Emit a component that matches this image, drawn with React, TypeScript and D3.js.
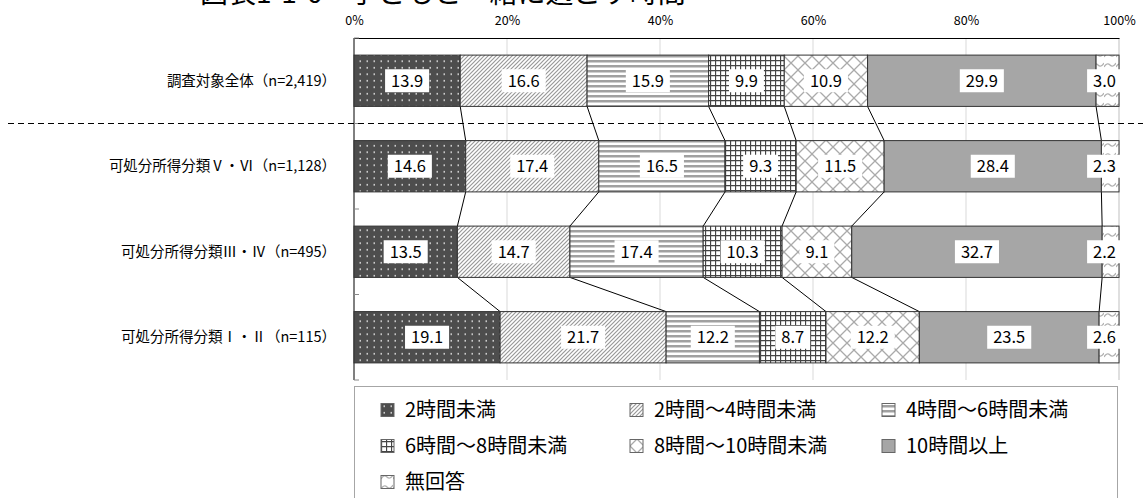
import * as d3 from "d3";
import { useEffect, useRef } from "react";

const categories = [
  "調査対象全体（n=2,419）",
  "可処分所得分類Ⅴ・Ⅵ（n=1,128）",
  "可処分所得分類Ⅲ・Ⅳ（n=495）",
  "可処分所得分類Ⅰ・Ⅱ（n=115）",
];
const seriesNames = [
  "2時間未満",
  "2時間～4時間未満",
  "4時間～6時間未満",
  "6時間～8時間未満",
  "8時間～10時間未満",
  "10時間以上",
  "無回答",
];
const valuesAll = [13.9, 16.6, 15.9, 9.9, 10.9, 29.9, 3.0];
const valuesV_VI = [14.6, 17.4, 16.5, 9.3, 11.5, 28.4, 2.3];
const valuesIII_IV = [13.5, 14.7, 17.4, 10.3, 9.1, 32.7, 2.2];
const valuesI_II = [19.1, 21.7, 12.2, 8.7, 12.2, 23.5, 2.6];
const rows = [valuesAll, valuesV_VI, valuesIII_IV, valuesI_II];
const tickValues = [0, 0.2, 0.4, 0.6, 0.8, 1];

const FONT = "'Noto Sans CJK JP', 'Noto Sans', sans-serif";

const App = () => {
  const ref = useRef<SVGSVGElement>(null);

  useEffect(() => {
    const width = 1143;
    const svg = d3.select(ref.current);
    svg.selectAll("*").remove();

    // パターン定義
    const defs = svg.append("defs");
    const p0 = defs.append("pattern").attr("id", "p0").attr("patternUnits", "userSpaceOnUse").attr("width", 7).attr("height", 6.5);
    p0.append("rect").attr("width", 7).attr("height", 6.5).attr("fill", "#4d4d4d");
    p0.append("rect").attr("x", 2.5).attr("y", 2).attr("width", 1.5).attr("height", 1.5).attr("fill", "#e6e6e6");

    const p1 = defs.append("pattern").attr("id", "p1").attr("patternUnits", "userSpaceOnUse").attr("width", 4).attr("height", 4);
    p1.append("rect").attr("width", 4).attr("height", 4).attr("fill", "#fff");
    p1.append("path").attr("d", "M-1,5 L5,-1 M-1,1 L1,-1 M3,5 L5,3").attr("stroke", "#999").attr("stroke-width", 1.2);

    const p2 = defs.append("pattern").attr("id", "p2").attr("patternUnits", "userSpaceOnUse").attr("width", 6).attr("height", 5);
    p2.append("rect").attr("width", 6).attr("height", 5).attr("fill", "#fff");
    p2.append("rect").attr("y", 0).attr("width", 6).attr("height", 2.5).attr("fill", "#a0a0a0");

    const p3 = defs.append("pattern").attr("id", "p3").attr("patternUnits", "userSpaceOnUse").attr("width", 5).attr("height", 5);
    p3.append("rect").attr("width", 5).attr("height", 5).attr("fill", "#fff");
    p3.append("path").attr("d", "M0,0.5 H5 M0.5,0 V5").attr("stroke", "#444").attr("stroke-width", 1.3);

    const p4 = defs.append("pattern").attr("id", "p4").attr("patternUnits", "userSpaceOnUse").attr("width", 14).attr("height", 14);
    p4.append("rect").attr("width", 14).attr("height", 14).attr("fill", "#fff");
    p4.append("path").attr("d", "M0,0 L14,14 M14,0 L0,14").attr("stroke", "#aaa").attr("stroke-width", 1.3);

    const p6 = defs.append("pattern").attr("id", "p6").attr("patternUnits", "userSpaceOnUse").attr("width", 12).attr("height", 10);
    p6.append("rect").attr("width", 12).attr("height", 10).attr("fill", "#fff");
    p6.append("path").attr("d", "M0,7 Q3,2 6,5 Q9,8 12,3").attr("stroke", "#b0b0b0").attr("stroke-width", 1.3).attr("fill", "none");

    const fills = ["url(#p0)", "url(#p1)", "url(#p2)", "url(#p3)", "url(#p4)", "#a6a6a6", "url(#p6)"];

    const margin = { top: 38, left: 354, right: 24 };
    const plotBottom = 380;

    const x = d3.scaleLinear().domain([0, 1]).range([margin.left, width - margin.right]);
    const y = d3.scaleBand().domain(categories).range([margin.top, plotBottom]).paddingInner(0.4).paddingOuter(0.2);

    // タイトル（上端で切れている）
    svg.append("text")
      .attr("x", 200).attr("y", 3)
      .attr("font-family", FONT).attr("font-size", 28)
      .text("図表1-1-6　子どもと一緒に過ごす時間");

    // グリッド
    svg.append("g").selectAll("line").data(tickValues.slice(1, 5)).join("line")
      .attr("x1", d => x(d)).attr("x2", d => x(d))
      .attr("y1", margin.top).attr("y2", plotBottom)
      .attr("stroke", "#d9d9d9");
    svg.append("line").attr("x1", x(1)).attr("x2", x(1)).attr("y1", margin.top).attr("y2", plotBottom).attr("stroke", "#bfbfbf");

    // 上部軸
    const axis = svg.append("g").attr("transform", `translate(0,${margin.top})`)
      .call(d3.axisTop(x).tickValues(tickValues).tickFormat(d3.format(".0%")).tickSize(0).tickPadding(13));
    axis.select(".domain").attr("stroke", "#000");
    axis.selectAll("text").attr("font-family", FONT).attr("font-size", 12.5).attr("fill", "#000");

    // 左軸
    svg.append("line").attr("x1", x(0)).attr("x2", x(0)).attr("y1", margin.top).attr("y2", plotBottom).attr("stroke", "#000");
    const step = y.step();
    svg.append("g").selectAll("line").data(d3.range(categories.length + 1)).join("line")
      .attr("x1", x(0)).attr("x2", x(0) + 5)
      .attr("y1", (d: number) => margin.top + y.paddingOuter() * step - step * 0.2 + d * step)
      .attr("y2", (d: number) => margin.top + y.paddingOuter() * step - step * 0.2 + d * step)
      .attr("stroke", "#888");

    const stacked = rows.map(vals => {
      const total = d3.sum(vals);
      let acc = 0;
      return vals.map(v => {
        const x0 = acc / total;
        acc += v;
        return { v, x0, x1: acc / total };
      });
    });

    // 接続線
    const conn = svg.append("g");
    for (let r = 0; r < rows.length - 1; r++) {
      for (let i = 0; i < seriesNames.length - 1; i++) {
        conn.append("line")
          .attr("x1", x(stacked[r][i].x1)).attr("y1", y(categories[r])! + y.bandwidth())
          .attr("x2", x(stacked[r + 1][i].x1)).attr("y2", y(categories[r + 1])!)
          .attr("stroke", "#000").attr("stroke-width", 1);
      }
    }

    // バー
    rows.forEach((_, r) => {
      const g = svg.append("g");
      const by = y(categories[r])!;
      g.selectAll("rect").data(stacked[r]).join("rect")
        .attr("x", d => x(d.x0)).attr("y", by)
        .attr("width", d => x(d.x1) - x(d.x0)).attr("height", y.bandwidth())
        .attr("fill", (_, i) => fills[i])
        .attr("stroke", "#333").attr("stroke-width", 1);
      const lg = g.selectAll("g.lbl").data(stacked[r]).join("g").attr("class", "lbl");
      lg.each(function (d) {
        let cx = (x(d.x0) + x(d.x1)) / 2;
        const cy = by + y.bandwidth() / 2;
        const s = d3.select(this);
        const t = s.append("text").attr("y", cy).attr("dy", "0.36em")
          .attr("text-anchor", "middle").attr("font-family", FONT).attr("font-size", 16.5)
          .text(d.v.toFixed(1));
        const w = (t.node() as SVGTextElement).getComputedTextLength();
        // 右端からはみ出さないように
        cx = Math.min(cx, x(1) - w / 2 - 3);
        t.attr("x", cx);
        s.insert("rect", "text").attr("x", cx - w / 2 - 6).attr("y", cy - 11.5).attr("width", w + 12).attr("height", 23).attr("fill", "#fff");
      });
    });

    // カテゴリラベル
    svg.append("g").selectAll("text").data(categories).join("text")
      .attr("x", 336).attr("y", d => y(d)! + y.bandwidth() / 2).attr("dy", "0.36em")
      .attr("text-anchor", "end").attr("font-family", FONT).attr("font-size", 14.5)
      .text(d => d);

    // 区切り破線
    const sepY = (y(categories[0])! + y.bandwidth() + y(categories[1])!) / 2;
    svg.append("line").attr("x1", 8).attr("x2", width).attr("y1", sepY).attr("y2", sepY)
      .attr("stroke", "#000").attr("stroke-width", 1.2).attr("stroke-dasharray", "6,4");

    // 凡例
    svg.append("rect").attr("x", 354.5).attr("y", 386.5).attr("width", 763).attr("height", 130)
      .attr("fill", "#fff").attr("stroke", "#a6a6a6");
    const colX = [381, 630, 882];
    const rowY = [410, 446, 482];
    const leg = svg.append("g").selectAll("g").data(seriesNames).join("g")
      .attr("transform", (_, i) => `translate(${colX[i % 3]},${rowY[Math.floor(i / 3)]})`);
    leg.append("rect").attr("x", 0).attr("y", -6.5).attr("width", 13).attr("height", 13)
      .attr("fill", (_, i) => fills[i]).attr("stroke", "#666");
    leg.append("text").attr("x", 24).attr("dy", "0.36em")
      .attr("font-family", FONT).attr("font-size", 20).text(d => d);
  }, []);

  return (
    <svg ref={ref} width={1143} height={498} style={{ position: "absolute", left: 0, top: 0, background: "#fff" }} />
  );
};

export default App;
